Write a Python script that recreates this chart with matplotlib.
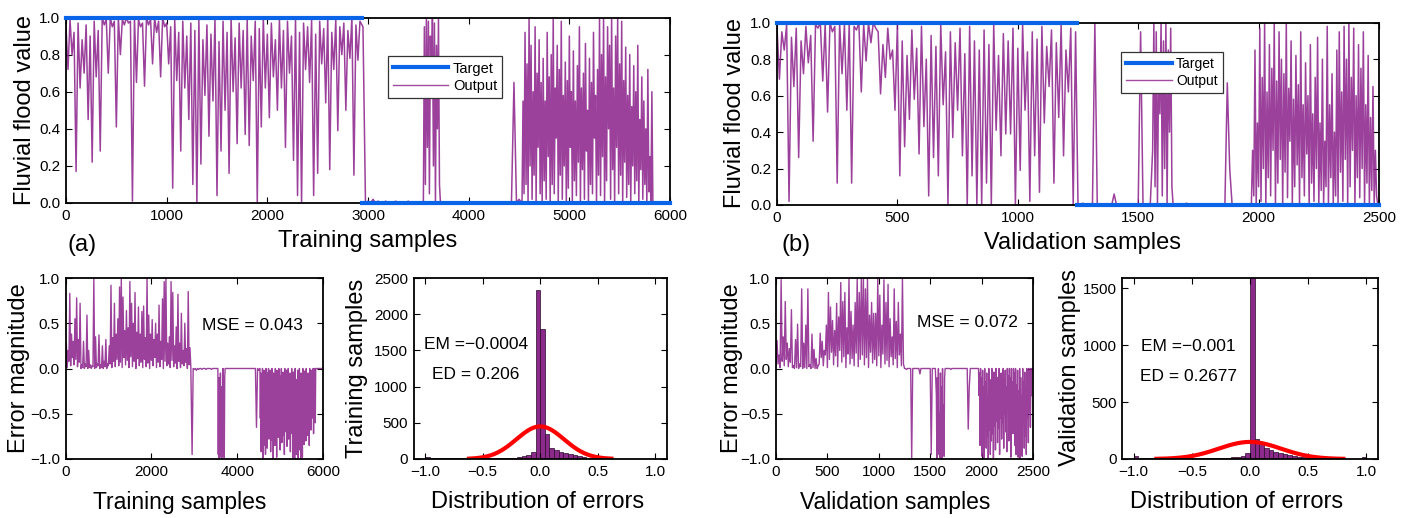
import numpy as np
import matplotlib
matplotlib.use("Agg")
import matplotlib.pyplot as plt
from matplotlib.lines import Line2D

plt.rcParams['font.family'] = ['Liberation Sans', 'DejaVu Sans']

# ---------------- data ----------------
# Training output, 0..2920 (step 20): alternating local peaks and dips
train_peaks_1 = [0.95, 0.99, 0.92, 0.97, 0.88, 0.96, 0.90, 0.98, 0.93, 1.00,
                 0.99, 1.00, 0.98, 1.00, 0.99, 1.00, 0.98, 1.00, 0.99, 0.97,
                 1.00, 0.99, 1.00, 0.98, 1.00, 0.97, 0.95, 0.99, 0.92, 0.98,
                 0.90, 0.97, 0.93, 0.99, 0.88, 0.96, 0.91, 0.99, 0.87, 0.98,
                 0.92, 1.00, 0.89, 0.97, 0.93, 0.99, 0.90, 0.98, 0.94, 1.00,
                 0.91, 0.97, 0.88, 0.99, 0.93, 0.98, 0.90, 1.00, 0.92, 0.97,
                 0.95, 0.99, 0.91, 0.98, 0.94, 1.00, 0.92, 0.99, 0.95, 0.97,
                 0.93, 1.00, 0.96, 0.98]
train_dips_1 = [0.72, 0.80, 0.17, 0.62, 0.70, 0.45, 0.22, 0.68, 0.28, 0.96,
                0.70, 0.95, 0.41, 0.80, 0.96, 0.97, 0.01, 0.65, 0.95, 0.63,
                0.96, 0.75, 0.92, 0.68, 0.95, 0.75, 0.08, 0.66, 0.28, 0.62,
                0.45, 0.10, 0.00, 0.21, 0.58, 0.36, 0.55, 0.04, 0.28, 0.50,
                0.16, 0.60, 0.32, 0.62, 0.37, 0.31, 0.66, 0.00, 0.41, 0.62,
                0.46, 0.68, 0.50, 0.62, 0.30, 0.70, 0.23, 0.04, 0.00, 0.72,
                0.65, 0.04, 0.16, 0.75, 0.54, 0.18, 0.72, 0.39, 0.80, 0.50,
                0.78, 0.15, 0.77]
train_out_2 = [0.95, 0.00, 0.01, 0.00, 0.02, 0.00, 0.01, 0.00, 0.00, 0.01, 0.00, 0.00, 0.00, 0.01,
               0.00, 0.00, 0.00, 0.00, 0.01, 0.00, 0.00, 0.00, 0.00, 0.00]
train_out_3 = [0.00, 0.95, 0.10, 1.00, 0.30, 0.98, 0.05, 0.90, 0.60, 1.00, 0.20, 0.97, 0.00, 0.85,
               0.40, 0.99, 0.10, 0.00]
train_out_4 = [0.00, 0.00, 0.00, 0.00, 0.00, 0.00, 0.00, 0.00, 0.00, 0.00, 0.00, 0.00, 0.00, 0.00,
               0.00, 0.00, 0.00, 0.00, 0.00, 0.00, 0.00, 0.00, 0.00, 0.00, 0.00, 0.00, 0.00, 0.00,
               0.00, 0.65, 0.00, 0.02]
train_out_5 = [0.00, 0.55, 0.05, 0.92, 0.10, 0.75, 0.00, 1.00, 0.20, 0.85, 0.02, 0.60, 0.15, 0.95,
               0.00, 0.70, 0.30, 0.88, 0.05, 0.65, 0.00, 0.78, 0.12, 0.55, 0.02, 0.92, 0.25, 0.68,
               0.00, 0.80, 0.10, 1.00, 0.05, 0.62, 0.35, 0.85, 0.00, 0.72, 0.15, 0.98, 0.02, 0.58,
               0.20, 0.76, 0.00, 0.66, 0.08, 0.90, 0.30, 0.60, 0.00, 0.82, 0.12, 0.55, 0.04, 0.74,
               0.22, 0.95, 0.00, 0.62, 0.18, 0.70, 0.02, 0.86, 0.28, 0.50, 0.00, 0.78, 0.10, 0.65,
               0.05, 0.92, 0.35, 0.58, 0.00, 0.72, 0.15, 1.00, 0.04, 0.80, 0.25, 1.00, 0.00, 0.68,
               0.12, 0.95, 0.40, 0.85, 0.02, 1.00, 0.18, 0.62, 0.00, 0.90, 0.30, 1.00, 0.05, 0.75,
               0.15, 0.98, 0.00, 0.66, 0.22, 0.84, 0.03, 0.58, 0.10, 0.80, 0.00, 0.52, 0.20, 0.74,
               0.05, 0.60, 0.12, 0.85, 0.00, 0.45, 0.18, 0.68, 0.02, 0.55, 0.10, 0.40, 0.00, 0.72,
               0.06, 0.25, 0.00, 0.60, 0.00, 0.00]
train_out_6 = [0.00, 0.00, 0.00, 0.00]
train_split = 2940          # target = 1 before, 0 after

# Validation output, 0..1240 (step 10): alternating local peaks and dips
val_peaks_1 = [0.98, 0.95, 0.99, 0.92, 0.97, 0.90, 0.98, 0.93, 0.99,
               1.00, 0.99, 1.00, 0.98, 1.00, 0.99, 1.00, 0.98, 1.00, 0.99, 1.00, 1.00,
               0.95, 0.88, 0.97, 0.85, 0.99, 0.90, 0.82, 0.96, 0.86, 0.98,
               0.80, 0.93, 0.87, 0.99, 0.84, 0.95, 0.89, 0.97, 0.83, 0.98,
               0.90, 0.85, 0.96, 0.88, 0.99, 0.82, 0.94, 0.90, 0.97, 0.86,
               0.99, 0.84, 0.95, 0.91, 0.98, 0.87, 0.96, 0.89, 0.99, 0.85,
               0.97, 0.95]
val_dips_1 = [0.69, 0.85, 0.02, 0.65, 0.26, 0.72, 0.78, 0.35, 0.97, 0.68,
              0.51, 0.95, 0.12, 0.72, 0.52, 0.12, 0.96, 0.62, 0.79, 0.89,
              0.97, 0.61, 0.70, 0.80, 0.52, 0.16, 0.32, 0.47, 0.58, 0.28,
              0.43, 0.05, 0.26, 0.16, 0.55, 0.00, 0.37, 0.52, 0.27, 0.00,
              0.16, 0.00, 0.00, 0.12, 0.00, 0.41, 0.27, 0.39, 0.39, 0.00,
              0.19, 0.52, 0.02, 0.27, 0.07, 0.45, 0.65, 0.12, 0.48, 0.27,
              0.62, 0.00]
val_out_2 = [0.00, 0.00, 0.01, 0.00, 0.00, 0.00, 0.00, 1.00, 0.00, 0.00, 0.00, 0.00, 0.00, 0.00, 0.00,
             0.06, 0.00, 0.00, 0.00, 0.00, 0.00, 0.00, 0.00, 0.00, 0.00, 0.00, 0.95, 0.00, 0.00, 0.00,
             0.00]
val_out_3 = [0.30, 1.00, 0.10, 0.95, 0.00, 0.80, 0.50, 1.00, 0.05, 0.90, 0.20, 1.00, 0.00, 0.85,
             0.40, 0.97, 0.10, 0.00]
val_out_4 = [0.00, 0.00, 0.00, 0.00, 0.00, 0.01, 0.00, 0.00, 0.00, 0.00, 0.00, 0.00, 0.00, 0.00,
             0.00, 0.00, 0.00, 0.00, 0.00, 0.00, 0.00, 0.00, 0.67, 0.20, 0.00, 0.00, 0.00, 0.00,
             0.00, 0.00, 0.00, 0.00]
val_out_5 = [0.00, 0.30, 0.05, 0.85, 0.00, 0.45, 0.10, 0.97, 0.02, 0.70, 0.20, 1.00, 0.00, 0.62,
             0.15, 0.88, 0.05, 0.75, 0.30, 1.00, 0.00, 0.68, 0.12, 0.95, 0.25, 0.80, 0.00, 0.72,
             0.18, 1.00, 0.04, 0.64, 0.35, 0.90, 0.00, 0.58, 0.10, 0.82, 0.22, 0.66, 0.00, 0.95,
             0.15, 0.55, 0.05, 0.78, 0.28, 0.60, 0.00, 0.88, 0.12, 0.50, 0.02, 0.70, 0.20, 0.92,
             0.00, 0.45, 0.08, 0.80, 0.00, 0.35, 0.10, 0.98, 0.00, 0.55, 0.15, 0.72, 0.00, 0.40,
             0.05, 0.85, 0.00, 0.95, 0.18, 0.62, 0.02, 0.98, 0.25, 0.80, 0.00, 1.00, 0.10, 0.70,
             0.30, 0.97, 0.00, 0.60, 0.15, 0.88, 0.04, 0.75, 0.20, 0.95, 0.00, 0.55, 0.12, 0.82,
             0.00, 0.48, 0.08, 0.65, 0.00, 0.30, 0.05, 0.00]
val_split = 1245

# Error histograms: 50 bins of width 0.04 from -1 to 1
train_hist = [30, 12, 8, 10, 15, 12, 20, 14, 10, 12, 15, 10, 8, 12, 10, 14, 12, 15, 18, 20,
              25, 35, 55, 100, 2340, 1790, 350, 150, 125, 100, 80, 65, 50, 38, 28, 20, 15, 10, 8, 6,
              5, 3, 2, 2, 1, 1, 1, 0, 0, 1]
val_hist = [25, 10, 8, 6, 6, 5, 7, 5, 6, 5, 6, 5, 6, 7, 6, 8, 7, 8, 9, 10,
            12, 15, 18, 30, 55, 1750, 175, 130, 100, 80, 65, 50, 40, 32, 25, 20, 15, 12, 10, 8,
            6, 5, 4, 4, 3, 3, 2, 2, 3, 20]
train_em, train_ed, train_peak = -0.0004, 0.206, 450
val_em, val_ed, val_peak = -0.001, 0.2677, 150
train_mse, val_mse = 0.043, 0.072

# ---------------- styles ----------------
PURPLE = '#8A1F8A'
BLUE = '#0A64E8'
W, H = 1411, 518


def interleave(peaks, dips):
    v = np.empty(len(peaks) + len(dips))
    v[0::2] = peaks
    v[1::2] = dips
    return v


train_segments = [(0, 20, interleave(train_peaks_1, train_dips_1)), (2950, 25, train_out_2),
                  (3550, 10, train_out_3), (3725, 25, train_out_4), (4530, 10, train_out_5),
                  (5850, 50, train_out_6)]
val_segments = [(0, 10, interleave(val_peaks_1, val_dips_1)), (1250, 10, val_out_2),
                (1560, 5, val_out_3), (1650, 10, val_out_4), (1970, 5, val_out_5)]


def build(segments):
    xs, ys = [], []
    for start, step, vals in segments:
        xs.append(start + step * np.arange(len(vals)))
        ys.append(np.asarray(vals, dtype=float))
    return np.concatenate(xs), np.concatenate(ys)


fig = plt.figure(figsize=(W / 100, H / 100), dpi=100)


def add_ax(l, t, r, b):
    return fig.add_axes([l / W, 1 - b / H, (r - l) / W, (b - t) / H])


def style(ax):
    ax.tick_params(direction='in', top=True, right=True, labelsize=11, length=4, width=0.8, pad=4)
    for s in ax.spines.values():
        s.set_linewidth(1.3)
        s.set_color('black')


def ftext(x, y, s, **kw):
    fig.text(x / W, 1 - y / H, s, ha='center', va='center', **kw)


def top_panel(ax, segments, split, xmax, xticks, leg_anchor, hlen, lfs):
    x, y = build(segments)
    t = np.where(x < split, 1.0, 0.0)
    ax.plot(x, y, color=PURPLE, lw=1.1, alpha=0.85, zorder=2)
    m1 = x < split
    ax.plot(np.append(x[m1], split), np.append(t[m1], 1.0), color=BLUE, lw=3, zorder=4, clip_on=False)
    ax.plot(np.append(split, np.append(x[~m1], xmax)), np.append(0.0, np.append(t[~m1], 0.0)),
            color=BLUE, lw=3, zorder=4, clip_on=False)
    ax.set_xlim(0, xmax)
    ax.set_ylim(0, 1)
    ax.set_xticks(xticks)
    ax.set_yticks(np.arange(0, 1.01, 0.2))
    style(ax)
    handles = [Line2D([], [], color=BLUE, lw=3), Line2D([], [], color=PURPLE, lw=1, alpha=0.8)]
    leg = ax.legend(handles, ['Target', 'Output'], loc='upper left', bbox_to_anchor=leg_anchor,
                    fontsize=lfs, frameon=True, fancybox=False, edgecolor='#333333', framealpha=1,
                    handlelength=hlen, handletextpad=0.3, borderpad=0.35, labelspacing=0.25,
                    borderaxespad=0)
    leg.get_frame().set_linewidth(0.9)
    return x, y, t


def err_panel(ax, x, err, xmax, xticks, mse, mse_xy):
    ax.plot(x, err, color=PURPLE, lw=1.0, alpha=0.85)
    ax.set_xlim(0, xmax)
    ax.set_ylim(-1, 1)
    ax.set_xticks(xticks)
    ax.set_yticks([-1, -0.5, 0, 0.5, 1])
    style(ax)
    ax.text(mse_xy[0], mse_xy[1], f'MSE = {mse}', fontsize=12.5, ha='center', va='center')


def hist_panel(ax, counts, em, ed, peak, ymax, yticks, txt_x, em_y, ed_y, em_str, ed_str):
    edges = np.linspace(-1, 1, len(counts) + 1)
    centers = 0.5 * (edges[:-1] + edges[1:])
    ax.bar(centers, counts, width=edges[1] - edges[0], color='#8B2A8B', edgecolor='#2a0a2a', lw=0.5)
    xs = np.linspace(em - 3 * ed, em + 3 * ed, 300)
    ax.plot(xs, peak * np.exp(-0.5 * ((xs - em) / ed) ** 2), color='#FF0000', lw=3)
    ax.set_xlim(-1.1, 1.1)
    ax.set_ylim(0, ymax)
    ax.set_xticks([-1, -0.5, 0, 0.5, 1])
    ax.set_yticks(yticks)
    style(ax)
    ax.text(txt_x, em_y, em_str, fontsize=12.5, ha='center', va='center')
    ax.text(txt_x, ed_y, ed_str, fontsize=12.5, ha='center', va='center')


# ---------------- top panels ----------------
ax_tl = add_ax(66, 17.5, 670, 203)
xt, yt, tt = top_panel(ax_tl, train_segments, train_split, 6000, np.arange(0, 6001, 1000),
                       (0.533, 0.79), 3.8, 10.5)
ax_tr = add_ax(777, 22.7, 1379, 205)
xv, yv, tv = top_panel(ax_tr, val_segments, val_split, 2500, np.arange(0, 2501, 500),
                       (0.572, 0.84), 3.3, 10)

LBL = 17
ftext(25, 110, 'Fluvial flood value', fontsize=LBL, rotation=90)
ftext(368, 241, 'Training samples', fontsize=LBL)
ftext(82, 245, '(a)', fontsize=LBL)
ftext(735, 113, 'Fluvial flood value', fontsize=LBL, rotation=90)
ftext(1083, 243, 'Validation samples', fontsize=LBL)
ftext(796, 245, '(b)', fontsize=LBL)

# ---------------- bottom panels ----------------
ax_bl = add_ax(65.5, 278, 323, 459)
err_panel(ax_bl, xt, tt - yt, 6000, [0, 2000, 4000, 6000], train_mse, (4350, 0.48))
ax_bh = add_ax(413.5, 278, 667, 459)
hist_panel(ax_bh, train_hist, train_em, train_ed, train_peak, 2500, [0, 500, 1000, 1500, 2000, 2500],
           -0.56, 1575, 1165, 'EM =\u22120.0004', 'ED = 0.206')
ax_br = add_ax(776, 278, 1033, 459)
err_panel(ax_br, xv, tv - yv, 2500, [0, 500, 1000, 1500, 2000, 2500], val_mse, (1860, 0.51))
ax_bh2 = add_ax(1122, 278, 1378, 459)
hist_panel(ax_bh2, val_hist, val_em, val_ed, val_peak, 1590, [0, 500, 1000, 1500],
           -0.53, 990, 728, 'EM =\u22120.001', 'ED = 0.2677')

ftext(19, 368, 'Error magnitude', fontsize=LBL, rotation=90)
ftext(180, 502, 'Training samples', fontsize=16.5)
ftext(357, 368, 'Training samples', fontsize=LBL, rotation=90)
ftext(538, 502, 'Distribution of errors', fontsize=LBL)
ftext(732, 368, 'Error magnitude', fontsize=LBL, rotation=90)
ftext(895, 502, 'Validation samples', fontsize=16.5)
ftext(1070, 368, 'Validation samples', fontsize=LBL, rotation=90)
ftext(1237, 502, 'Distribution of errors', fontsize=LBL)

fig.savefig('out.png', dpi=100)
